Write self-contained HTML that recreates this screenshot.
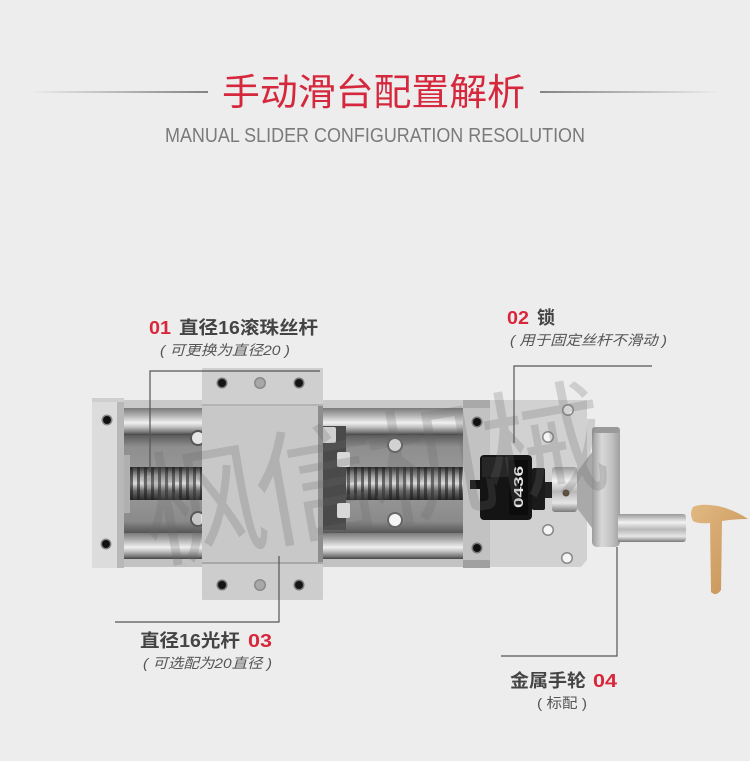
<!DOCTYPE html>
<html><head><meta charset="utf-8"><style>
html,body{margin:0;padding:0;background:#ededed;}
svg{display:block;}
</style></head><body>
<svg width="750" height="761" viewBox="0 0 750 761" xmlns="http://www.w3.org/2000/svg">
<defs>
<linearGradient id="gl" x1="0" x2="1" y1="0" y2="0"><stop offset="0" stop-color="#ededed"/><stop offset="1" stop-color="#555"/></linearGradient>
<linearGradient id="gr" x1="0" x2="1" y1="0" y2="0"><stop offset="0" stop-color="#555"/><stop offset="1" stop-color="#ededed"/></linearGradient>
<linearGradient id="rail" x1="0" x2="0" y1="0" y2="1"><stop offset="0" stop-color="#7a7a7a"/><stop offset=".25" stop-color="#acacac"/><stop offset=".55" stop-color="#f0f0f0"/><stop offset=".7" stop-color="#c4c4c4"/><stop offset=".9" stop-color="#767676"/><stop offset="1" stop-color="#454545"/></linearGradient>
<linearGradient id="scr" x1="0" x2="0" y1="0" y2="1"><stop offset="0" stop-color="#333"/><stop offset=".3" stop-color="#a8a8a8"/><stop offset=".5" stop-color="#dcdcdc"/><stop offset=".72" stop-color="#6a6a6a"/><stop offset="1" stop-color="#2a2a2a"/></linearGradient>
<pattern id="thr" width="7" height="10" patternUnits="userSpaceOnUse"><rect x="4" width="3" height="10" fill="#1e1e1e" opacity=".6"/></pattern>
<linearGradient id="base" x1="0" x2="0" y1="0" y2="1"><stop offset="0" stop-color="#5a5a5a"/><stop offset=".12" stop-color="#8e8e8e"/><stop offset=".5" stop-color="#9c9c9c"/><stop offset=".88" stop-color="#8a8a8a"/><stop offset="1" stop-color="#555"/></linearGradient>
<linearGradient id="chromeV" x1="0" x2="0" y1="0" y2="1"><stop offset="0" stop-color="#9a9a9a"/><stop offset=".3" stop-color="#f2f2f2"/><stop offset=".55" stop-color="#b8b8b8"/><stop offset=".8" stop-color="#e6e6e6"/><stop offset="1" stop-color="#7a7a7a"/></linearGradient>
<linearGradient id="wheel" x1="0" x2="1" y1="0" y2="0"><stop offset="0" stop-color="#9c9c9c"/><stop offset=".35" stop-color="#d8d8d8"/><stop offset=".7" stop-color="#c2c2c2"/><stop offset="1" stop-color="#a0a0a0"/></linearGradient>
<linearGradient id="wood" x1="0" x2="1" y1="0" y2="1"><stop offset="0" stop-color="#e2b983"/><stop offset="1" stop-color="#c48f52"/></linearGradient>
</defs>
<rect width="750" height="761" fill="#ededed"/>

<!-- Title -->
<rect x="30" y="91.3" width="178" height="1.4" fill="url(#gl)"/>
<rect x="540" y="91.3" width="180" height="1.4" fill="url(#gr)"/>
<text x="222" y="105" font-family="'Noto Sans CJK SC','WenQuanYi Zen Hei',sans-serif" font-size="37" fill="#d5283d" textLength="303" lengthAdjust="spacingAndGlyphs">手动滑台配置解析</text>
<text x="165" y="142" font-family="'Liberation Sans',sans-serif" font-size="20" fill="#7a7a7a" textLength="420" lengthAdjust="spacingAndGlyphs">MANUAL SLIDER CONFIGURATION RESOLUTION</text>

<!-- Product: frame & rails -->
<rect x="120" y="400" width="345" height="167" fill="#c6c6c6"/>
<rect x="123" y="435" width="340" height="98" fill="url(#base)"/>
<rect x="123" y="408" width="340" height="27" fill="url(#rail)"/>
<rect x="123" y="533" width="340" height="26" fill="url(#rail)"/>
<rect x="123" y="400" width="340" height="8" fill="#c9c9c9"/>
<rect x="123" y="559" width="340" height="8" fill="#c2c2c2"/>
<!-- base holes -->
<circle cx="395" cy="445" r="8" fill="#666"/><circle cx="395" cy="445" r="6" fill="#f4f4f4"/>
<circle cx="395" cy="520" r="8" fill="#666"/><circle cx="395" cy="520" r="6" fill="#f4f4f4"/>
<circle cx="198" cy="438" r="8" fill="#555"/><circle cx="198" cy="438" r="6" fill="#e6e6e6"/>
<circle cx="198" cy="519" r="8" fill="#555"/><circle cx="198" cy="519" r="6" fill="#e6e6e6"/>
<!-- ball screw -->
<rect x="124" y="467" width="358" height="33" fill="url(#scr)"/>
<rect x="124" y="467" width="358" height="33" fill="url(#thr)"/>
<rect x="122" y="455" width="8" height="58" fill="#b0b0b0"/>
<!-- ball nut -->
<rect x="318" y="426" width="28" height="104" fill="#4a4a4a"/>
<rect x="322" y="427" width="14" height="16" fill="#d0d0d0" rx="2"/>
<rect x="337" y="452" width="13" height="15" fill="#d8d8d8" rx="2"/>
<rect x="337" y="503" width="13" height="15" fill="#d8d8d8" rx="2"/>

<!-- left end plate -->
<rect x="92" y="398" width="28" height="170" fill="#dcdcdc"/>
<rect x="117" y="398" width="7" height="170" fill="#b8b8b8"/>
<rect x="92" y="398" width="32" height="4" fill="#cfcfcf"/>
<circle cx="107" cy="420" r="5.5" fill="#888"/><circle cx="107" cy="420" r="4" fill="#111"/>
<circle cx="106" cy="544" r="5.5" fill="#888"/><circle cx="106" cy="544" r="4" fill="#111"/>

<!-- carriage -->
<rect x="202" y="368" width="121" height="232" fill="#c8c8c8" rx="2"/>
<rect x="202" y="368" width="121" height="37" fill="#cfcfcf" rx="2"/>
<rect x="202" y="563" width="121" height="37" fill="#cdcdcd" rx="2"/>
<rect x="202" y="404" width="121" height="2" fill="#b4b4b4"/>
<rect x="202" y="562" width="121" height="2" fill="#a8a8a8"/>
<rect x="318" y="406" width="5" height="156" fill="#8e8e8e"/>
<circle cx="222" cy="383" r="5.5" fill="#777"/><circle cx="222" cy="383" r="4" fill="#151515"/>
<circle cx="260" cy="383" r="6" fill="#8a8a8a"/><circle cx="260" cy="383" r="4.5" fill="#a8a8a8"/>
<circle cx="299" cy="383" r="5.5" fill="#777"/><circle cx="299" cy="383" r="4" fill="#151515"/>
<circle cx="222" cy="585" r="5.5" fill="#777"/><circle cx="222" cy="585" r="4" fill="#151515"/>
<circle cx="260" cy="585" r="6" fill="#8a8a8a"/><circle cx="260" cy="585" r="4.5" fill="#a8a8a8"/>
<circle cx="299" cy="585" r="5.5" fill="#777"/><circle cx="299" cy="585" r="4" fill="#151515"/>

<!-- right end plate -->
<path d="M463,400 H587 V560 L581,567 H463 Z" fill="#d1d1d1"/>
<rect x="463" y="400" width="27" height="167" fill="#c2c2c2"/>
<rect x="463" y="400" width="27" height="8" fill="#a9a9a9"/>
<rect x="463" y="560" width="27" height="8" fill="#a0a0a0"/>
<circle cx="477" cy="422" r="5.5" fill="#777"/><circle cx="477" cy="422" r="4" fill="#111"/>
<circle cx="477" cy="548" r="5.5" fill="#777"/><circle cx="477" cy="548" r="4" fill="#111"/>
<circle cx="568" cy="410" r="6" fill="#888"/><circle cx="568" cy="410" r="4.5" fill="#f5f5f5"/>
<circle cx="548" cy="437" r="6" fill="#888"/><circle cx="548" cy="437" r="4.5" fill="#f5f5f5"/>
<circle cx="548" cy="530" r="6" fill="#888"/><circle cx="548" cy="530" r="4.5" fill="#f5f5f5"/>
<circle cx="567" cy="558" r="6" fill="#888"/><circle cx="567" cy="558" r="4.5" fill="#f5f5f5"/>

<!-- lock / counter -->
<rect x="470" y="480" width="12" height="9" fill="#111"/>
<rect x="480" y="455" width="52" height="65" rx="4" fill="#141414"/>
<rect x="482" y="457" width="26" height="20" fill="#262626"/>
<rect x="509" y="460" width="19" height="55" rx="2" fill="#0c0c0c"/>
<text x="0" y="0" transform="translate(523,508) rotate(-90)" font-family="'Liberation Sans',sans-serif" font-weight="bold" font-size="13" fill="#e8e8e8" textLength="42" lengthAdjust="spacingAndGlyphs">0436</text>
<rect x="532" y="468" width="13" height="42" rx="2" fill="#1a1a1a"/>
<rect x="545" y="482" width="8" height="16" fill="#222"/>
<!-- silver collar / hub -->
<rect x="552" y="467" width="25" height="45" rx="3" fill="url(#chromeV)"/>
<circle cx="566" cy="493" r="3.5" fill="#5a4a3a"/>
<path d="M577,472 L592,452 V528 L577,508 Z" fill="#a9a9a9"/>
<!-- wheel disc -->
<rect x="592" y="427" width="28" height="120" rx="5" fill="url(#wheel)"/>
<rect x="592" y="427" width="28" height="6" rx="3" fill="#9a9a9a"/>
<!-- handle -->
<path d="M618,514 H683 Q686,514 686,518 V538 Q686,542 683,542 H618 Z" fill="url(#chromeV)"/>
<!-- wooden T -->
<path d="M693,507 Q700,503 718,506 Q735,510 748,519 Q735,519 722,521 L721,590 Q716,597 711,592 L710,523 Q698,524 693,521 Q689,513 693,507 Z" fill="url(#wood)"/>

<!-- watermark -->
<text x="150" y="560" transform="rotate(-10 150 560)" font-family="'Noto Sans CJK SC','WenQuanYi Zen Hei',sans-serif" font-size="125" fill="#6a6a6a" opacity="0.24" letter-spacing="-10">枫信机械</text>

<!-- leader lines -->
<g stroke="#555" stroke-width="1.2" fill="none">
<path d="M150,472 V371 H320"/>
<path d="M514,443 V366 H652"/>
<path d="M115,622 H279 V556"/>
<path d="M501,656 H617 V547"/>
</g>

<!-- labels -->
<g font-family="'Liberation Sans','Noto Sans CJK SC',sans-serif">
<text x="149" y="334" font-size="18" font-weight="bold" fill="#d9263a" textLength="22" lengthAdjust="spacingAndGlyphs">01</text>
<text x="179" y="334" font-size="18" font-weight="bold" fill="#444" textLength="139" lengthAdjust="spacingAndGlyphs">直径16滚珠丝杆</text>
<text x="160" y="355" font-size="14" font-style="italic" fill="#555" textLength="130" lengthAdjust="spacingAndGlyphs">( 可更换为直径20 )</text>

<text x="507" y="324" font-size="18" font-weight="bold" fill="#d9263a" textLength="22" lengthAdjust="spacingAndGlyphs">02</text>
<text x="537" y="324" font-size="18" font-weight="bold" fill="#444" textLength="18" lengthAdjust="spacingAndGlyphs">锁</text>
<text x="510" y="345" font-size="14" font-style="italic" fill="#555" textLength="157" lengthAdjust="spacingAndGlyphs">( 用于固定丝杆不滑动 )</text>

<text x="140" y="647" font-size="18" font-weight="bold" fill="#444" textLength="100" lengthAdjust="spacingAndGlyphs">直径16光杆</text>
<text x="248" y="647" font-size="18" font-weight="bold" fill="#d9263a" textLength="24" lengthAdjust="spacingAndGlyphs">03</text>
<text x="143" y="668" font-size="14" font-style="italic" fill="#555" textLength="129" lengthAdjust="spacingAndGlyphs">( 可选配为20直径 )</text>

<text x="510" y="687" font-size="18" font-weight="bold" fill="#444" textLength="76" lengthAdjust="spacingAndGlyphs">金属手轮</text>
<text x="593" y="687" font-size="18" font-weight="bold" fill="#d9263a" textLength="24" lengthAdjust="spacingAndGlyphs">04</text>
<text x="537" y="708" font-size="14" fill="#555" textLength="50" lengthAdjust="spacingAndGlyphs">( 标配 )</text>
</g>
</svg>
</body></html>
